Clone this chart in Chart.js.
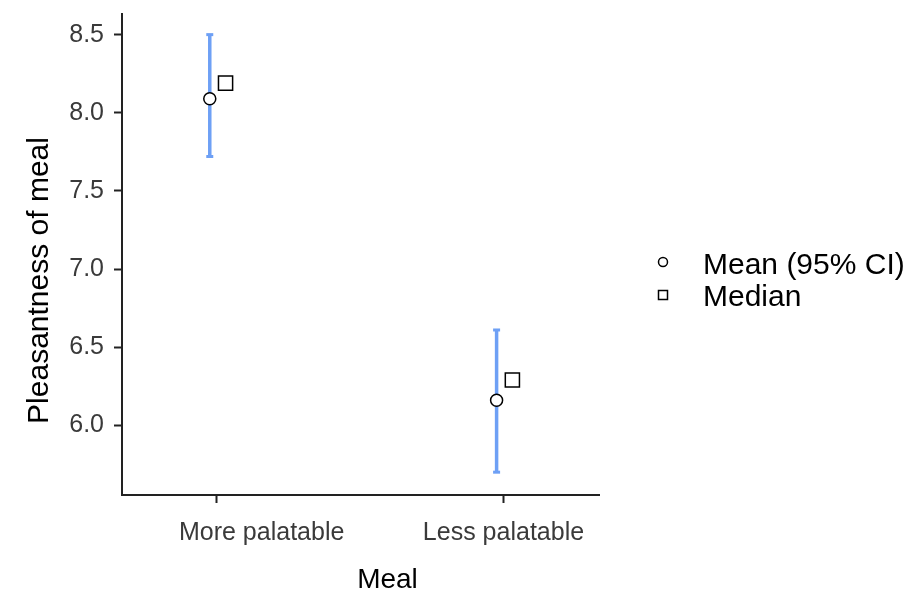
<!DOCTYPE html>
<html><head><meta charset="utf-8">
<script src="https://cdn.jsdelivr.net/npm/chart.js@4/dist/chart.umd.min.js"></script>
<style>html,body{margin:0;padding:0;background:#fff;}#wrap{width:914px;height:592px;position:relative;}</style>
</head><body><div id="wrap"><canvas id="c"></canvas></div>
<script>
const categories = ['More palatable', 'Less palatable'];
const means = [8.09, 6.16];
const ciLower = [7.72, 5.70];
const ciUpper = [8.50, 6.61];
const medians = [8.19, 6.29];
const yTicks = [6.0, 6.5, 7.0, 7.5, 8.0, 8.5];
const legendLabels = ['Mean (95% CI)', 'Median'];
const xTitle = 'Meal';
const yTitle = 'Pleasantness of meal';

const MEAN_DODGE = -0.024, MEDIAN_DODGE = 0.031;
const X_LABEL_SHIFT = [45, 0];
const FONT = '"Liberation Sans", Arial, sans-serif';
const BAR_COLOR = '#6ea0f5';
const TICK_COLOR = '#3a3a3a';

const errorData = [];
categories.forEach((c, i) => {
  const x = i + 1 + MEAN_DODGE;
  errorData.push({x, y: ciLower[i]}, {x, y: ciUpper[i]}, {x, y: null});
});
const meanData = categories.map((c, i) => ({x: i + 1 + MEAN_DODGE, y: means[i]}));
const medianData = categories.map((c, i) => ({x: i + 1 + MEDIAN_DODGE, y: medians[i]}));

const annot = {
  id: 'annot',
  afterDraw(chart) {
    const {ctx, chartArea: a} = chart;
    const xs = chart.scales.x;
    ctx.save();
    // category labels
    ctx.fillStyle = TICK_COLOR;
    ctx.textBaseline = 'alphabetic';
    ctx.textAlign = 'center';
    ctx.font = `25px ${FONT}`;
    categories.forEach((c, i) => ctx.fillText(c, xs.getPixelForValue(i + 1) + X_LABEL_SHIFT[i], 540));
    // axis titles
    ctx.fillStyle = '#000';
    ctx.font = `28px ${FONT}`;
    ctx.fillText(xTitle, (a.left + a.right) / 2 + 27, 588);
    ctx.save();
    ctx.translate(48, (a.top + a.bottom) / 2 + 26);
    ctx.rotate(-Math.PI / 2);
    ctx.font = `30px ${FONT}`;
    ctx.fillText(yTitle, 0, 0);
    ctx.restore();
    // legend
    const lx = a.right + 64, tx = a.right + 104;
    const rowY = [262, 295], baseY = [274, 306];
    ctx.lineWidth = 1.5;
    ctx.strokeStyle = '#000';
    ctx.fillStyle = '#fff';
    ctx.beginPath(); ctx.arc(lx, rowY[0], 4.5, 0, Math.PI * 2); ctx.fill(); ctx.stroke();
    ctx.beginPath(); ctx.rect(lx - 4.5, rowY[1] - 4.5, 9, 9); ctx.fill(); ctx.stroke();
    ctx.fillStyle = '#000';
    ctx.textAlign = 'left';
    ctx.font = `30px ${FONT}`;
    legendLabels.forEach((t, i) => ctx.fillText(t, tx, baseY[i]));
    ctx.restore();
  }
};

new Chart(document.getElementById('c'), {
  type: 'scatter',
  data: {
    datasets: [
      {label: legendLabels[0], data: meanData, order: 0, pointStyle: 'circle', pointRadius: 6, pointHoverRadius: 6,
       backgroundColor: '#fff', borderColor: '#000', borderWidth: 1.5, showLine: false},
      {label: legendLabels[1], data: medianData, order: 1, pointStyle: 'rect', pointRadius: 10, pointHoverRadius: 10,
       backgroundColor: '#fff', borderColor: '#000', borderWidth: 1.5, showLine: false},
      {label: 'CI', data: errorData, order: 2, showLine: true, spanGaps: false, borderColor: BAR_COLOR, borderWidth: 3.5,
       pointStyle: 'line', pointRadius: 3.5, pointHoverRadius: 3.5, pointBorderColor: BAR_COLOR, pointBorderWidth: 3}
    ]
  },
  plugins: [annot],
  options: {
    responsive: true, maintainAspectRatio: false, animation: false,
    layout: {padding: {top: 14, right: 315, bottom: 0, left: 0}},
    plugins: {legend: {display: false}, tooltip: {enabled: false}},
    scales: {
      x: {
        type: 'linear', min: 0.67, max: 2.333,
        afterBuildTicks: s => { s.ticks = categories.map((c, i) => ({value: i + 1})); },
        afterFit: s => { s.height = 97; s.paddingLeft = 0; s.paddingRight = 0; },
        ticks: {display: false, includeBounds: false},
        grid: {drawOnChartArea: false, tickLength: 8, tickWidth: 2, tickColor: '#222'},
        border: {color: '#222', width: 2}
      },
      y: {
        type: 'linear', min: 5.554, max: 8.632,
        afterBuildTicks: s => { s.ticks = yTicks.map(v => ({value: v})); },
        afterFit: s => { s.width = 122; s.paddingTop = 0; s.paddingBottom = 0; },
        ticks: {callback: v => Number(v).toFixed(1), font: {size: 25, family: FONT}, color: TICK_COLOR, padding: 10, includeBounds: false},
        grid: {drawOnChartArea: false, tickLength: 8, tickWidth: 2, tickColor: '#222'},
        border: {color: '#222', width: 2}
      }
    }
  }
});
</script></body></html>
